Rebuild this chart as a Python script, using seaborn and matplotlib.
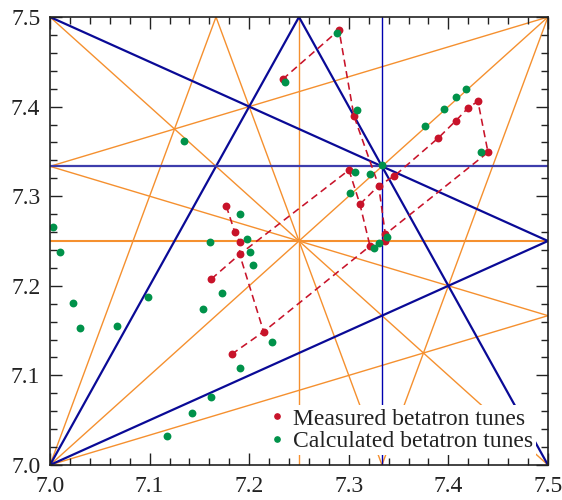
import pandas as pd
import seaborn as sns
import matplotlib.pyplot as plt
from matplotlib.lines import Line2D
from matplotlib.ticker import MultipleLocator, FormatStrFormatter

# measured betatron tunes
meas_qx = [7.2336, 7.2902, 7.3052, 7.3002, 7.3112, 7.3300, 7.3457, 7.3213, 7.3367, 7.3367,
           7.3899, 7.4076, 7.4200, 7.4297, 7.4398, 7.1770, 7.1854, 7.1904, 7.1904, 7.1620,
           7.2145, 7.1824]
meas_qy = [7.4305, 7.4855, 7.3895, 7.3292, 7.2910, 7.3117, 7.3225, 7.2444, 7.2575, 7.2500,
           7.3650, 7.3843, 7.3988, 7.4059, 7.3490, 7.2890, 7.2604, 7.2492, 7.2351, 7.2076,
           7.1488, 7.1236]
# scan lines joining the measured tunes (indices into the lists above)
meas_scans = [[0, 1, 2, 5, 8, 9],
              [15, 16, 17, 18, 20],
              [19, 18, 3],
              [3, 4, 7],
              [21, 20, 7],
              [4, 5, 6, 10, 11, 12, 13, 14, 8]]

# calculated betatron tunes
calc_qx = [7.2359, 7.2885, 7.3079, 7.3066, 7.3213, 7.3330, 7.3009, 7.3380, 7.3306, 7.3256,
           7.3762, 7.3953, 7.4073, 7.4180, 7.4324, 7.1911, 7.1975, 7.1603, 7.2008, 7.2041,
           7.1727, 7.1539, 7.2226, 7.1911, 7.1349, 7.0033, 7.0100, 7.0234, 7.0298, 7.0670,
           7.0981, 7.1616, 7.1426, 7.1178]
calc_qy = [7.4278, 7.4818, 7.3966, 7.3267, 7.3251, 7.3348, 7.3032, 7.2548, 7.2481, 7.2419,
           7.3780, 7.3973, 7.4104, 7.4196, 7.3490, 7.2798, 7.2519, 7.2492, 7.2374, 7.2232,
           7.1923, 7.1738, 7.1376, 7.1079, 7.3616, 7.2653, 7.2374, 7.1811, 7.1529, 7.1555,
           7.1872, 7.0756, 7.0577, 7.0324]

# resonance lines m*Qx + n*Qy = p
third_order = [(2, -1, 7), (2, 1, 22), (1, -2, -7), (1, 2, 22), (3, 0, 22), (0, 3, 22)]
fourth_order = [(4, 0, 29), (0, 4, 29), (2, -2, 0), (2, 2, 29), (3, -1, 14), (3, 1, 29),
                (3, -1, 15), (1, -3, -14), (1, 3, 29), (1, -3, -15)]

lo, hi = 7.0, 7.5
RED = "#c8132a"
GREEN = "#00924a"
BLUE = "#0a0a96"
ORANGE = "#f5902f"


def clip_line(m, n, p):
    pts = []
    for x in (lo, hi):
        if n != 0:
            y = (p - m * x) / n
            if lo - 1e-9 <= y <= hi + 1e-9:
                pts.append((x, y))
    for y in (lo, hi):
        if m != 0:
            x = (p - n * y) / m
            if lo - 1e-9 <= x <= hi + 1e-9:
                pts.append((x, y))
    uniq = []
    for pt in pts:
        if not any(abs(pt[0] - q[0]) < 1e-9 and abs(pt[1] - q[1]) < 1e-9 for q in uniq):
            uniq.append(pt)
    xs = [pt[0] for pt in uniq[:2]]
    ys = [pt[1] for pt in uniq[:2]]
    return xs, ys


sns.set_theme(style="ticks", rc={"axes.axisbelow": False,
                                 "xtick.direction": "in", "ytick.direction": "in",
                                 "xtick.top": True, "ytick.right": True,
                                 "xtick.minor.visible": True, "ytick.minor.visible": True})
plt.rcParams['font.family'] = ['Liberation Serif', 'DejaVu Serif']

fig = plt.figure(figsize=(5.62, 5.0), dpi=100)
ax = fig.add_axes([0.089, 0.07, 0.886, 0.896])

for m, n, p in fourth_order:
    xs, ys = clip_line(m, n, p)
    lw = 1.5 if (m, n) == (0, 4) else 1.0
    ax.plot(xs, ys, color=ORANGE, lw=lw, zorder=1)

for m, n, p in third_order:
    xs, ys = clip_line(m, n, p)
    if (m, n) == (0, 3):
        ax.plot(xs, ys, color="#3d3dac", lw=1.6, zorder=2)
    elif (m, n) == (3, 0):
        ax.plot(xs, ys, color="#0000b0", lw=1.0, zorder=2)
    else:
        ax.plot(xs, ys, color=BLUE, lw=1.6, zorder=2)

rows = []
for k, scan in enumerate(meas_scans):
    for i in scan:
        rows.append({"qx": meas_qx[i], "qy": meas_qy[i], "scan": k})
scan_df = pd.DataFrame(rows)
sns.lineplot(data=scan_df, x="qx", y="qy", units="scan", estimator=None, sort=False,
             color=RED, lw=1.15, linestyle=(0, (4.5, 2.8)), ax=ax, zorder=3)

meas_df = pd.DataFrame({"qx": meas_qx, "qy": meas_qy})
calc_df = pd.DataFrame({"qx": calc_qx, "qy": calc_qy})
sns.scatterplot(data=meas_df, x="qx", y="qy", color=RED, s=32, linewidth=0, ax=ax, zorder=4)
sns.scatterplot(data=calc_df, x="qx", y="qy", color=GREEN, s=32, linewidth=0, ax=ax, zorder=5)

ax.set_xlim(lo, hi)
ax.set_ylim(lo, hi)
ax.set_xlabel("")
ax.set_ylabel("")
ax.xaxis.set_major_locator(MultipleLocator(0.1))
ax.yaxis.set_major_locator(MultipleLocator(0.1))
ax.xaxis.set_minor_locator(MultipleLocator(0.02))
ax.yaxis.set_minor_locator(MultipleLocator(0.02))
ax.xaxis.set_major_formatter(FormatStrFormatter('%.1f'))
ax.yaxis.set_major_formatter(FormatStrFormatter('%.1f'))
ax.set_axisbelow(False)
ax.tick_params(which='both', direction='in', top=True, right=True, bottom=True, left=True,
               color='#222222', width=1.0, labelsize=17, labelcolor='#222222')
ax.tick_params(which='major', length=8.5)
ax.tick_params(which='minor', length=5)
ax.tick_params(axis='x', pad=8)
ax.tick_params(axis='y', pad=7)
for sp in ax.spines.values():
    sp.set_color('#222222')
    sp.set_linewidth(1.2)
    sp.set_zorder(6)

handles = [Line2D([], [], marker='o', ls='', color=RED, markersize=3.8),
           Line2D([], [], marker='o', ls='', color=GREEN, markersize=3.8)]
leg = ax.legend(handles, ["Measured betatron tunes", "Calculated betatron tunes"],
                loc='lower right', bbox_to_anchor=(0.976, 0.022), borderaxespad=0,
                fontsize=17, frameon=True, framealpha=1, facecolor='white',
                edgecolor='none', fancybox=False, borderpad=0.12, handlelength=0.6,
                handletextpad=0.4, labelspacing=0.05)
leg.set_zorder(7)
for t in leg.get_texts():
    t.set_color('#222222')

fig.savefig("out.png", dpi=100)
